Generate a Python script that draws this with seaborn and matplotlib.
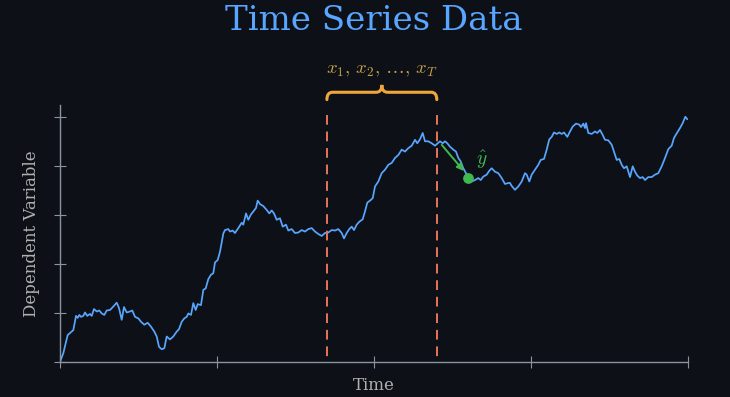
import numpy as np
import pandas as pd
import matplotlib
matplotlib.use("Agg")
import matplotlib.pyplot as plt
from matplotlib.path import Path
from matplotlib.patches import PathPatch
import seaborn as sns

# ---------------- data ----------------
time = [0, 1.05, 2.45, 3.73, 4.24, 5.10, 5.64, 6.15, 6.69, 7.42, 7.96, 8.69, 9.55, 10.10, 10.83,
        11.69, 12.52, 13.28, 14.11, 14.87, 15.92, 16.97, 18.06, 18.79, 19.65, 20.38, 21.24, 22.29,
        23.03, 23.89, 24.94, 25.80, 26.85, 27.93, 28.98, 30.03, 30.80, 31.53, 32.39, 33.22, 33.98,
        35.03, 36.08, 37.17, 37.90, 38.76, 39.59, 40.35, 40.86, 41.72, 42.45, 43.22, 43.85, 44.90,
        45.64, 46.40, 47.23, 48.09, 48.82, 49.36, 50.22, 50.96, 52.01, 52.55, 53.60, 54.14, 55.0,
        55.73, 56.78, 57.87, 58.38, 59.24, 59.97, 60.73, 61.56, 62.42, 62.96, 63.69, 64.74, 65.83,
        66.66, 67.42, 68.15, 69.01, 70.06, 70.92, 71.97, 72.71, 73.79, 74.84, 75.89, 76.97, 78.03,
        79.08, 80.16, 81.21, 82.26, 83.34, 84.39, 85.45, 86.53, 87.58, 88.63, 89.71, 90.45, 91.30,
        92.13, 92.90, 93.63, 94.49, 95.32, 96.40, 97.13, 97.87, 98.73, 99.59, 100.32, 101.37,
        102.45, 103.50, 104.55, 105.64, 106.69, 107.74, 108.82, 109.87, 110.92, 112.01, 113.06,
        113.79, 114.65, 115.51, 116.24, 117.29, 118.38, 119.43, 120.16, 121.02, 121.88, 122.61,
        123.34, 124.20, 125.25, 126.11, 126.85, 127.61, 128.44, 129.30, 130.03, 131.12, 132.17,
        133.22, 133.98, 134.81, 135.89, 136.72, 137.48, 138.54, 139.59, 140.67, 141.72, 142.77,
        143.31, 143.85, 144.90, 145.96, 147.04, 148.09, 148.63, 149.46, 150.22, 151.27, 152.32,
        153.09, 154.14, 155.0, 155.83, 156.59, 157.32, 158.18, 159.01, 159.78, 160.51, 161.56,
        162.42, 163.28, 164.33, 165.38, 165.92, 166.66, 167.20, 167.52, 168.25, 169.33, 170.38,
        171.11, 171.97, 172.83, 173.57, 174.62, 175.70, 176.43, 177.29, 178.12, 178.89, 179.62,
        180.48, 181.53, 182.39, 183.12, 183.86, 184.71, 185.57, 186.31, 187.36, 188.44, 189.49,
        190.54, 191.62, 192.68, 193.73, 194.81, 195.54, 196.59, 197.45, 198.31, 199.14, 199.78]
value = [0.0, 0.18, 0.55, 0.62, 0.65, 0.94, 0.90, 0.96, 0.92, 0.94, 1.01, 0.94, 0.98, 0.94, 1.08,
         1.03, 1.05, 0.99, 0.96, 1.05, 1.06, 1.13, 1.21, 1.10, 0.86, 1.12, 1.01, 1.03,
         1.05, 0.92, 0.89, 0.82, 0.76, 0.80, 0.72, 0.62, 0.52, 0.31, 0.26, 0.28, 0.52,
         0.46, 0.52, 0.62, 0.67, 0.82, 0.89, 0.92, 0.99, 0.96, 1.20, 1.06, 1.18, 1.16,
         1.47, 1.50, 1.69, 1.78, 1.81, 2.03, 2.08, 2.25, 2.62, 2.69, 2.71, 2.66, 2.68,
         2.63, 2.73, 2.84, 2.80, 3.03, 2.90, 3.00, 3.07, 3.14, 3.29, 3.22, 3.18, 3.10,
         3.03, 3.09, 3.03, 2.90, 2.93, 2.76, 2.80, 2.68, 2.71, 2.63, 2.64, 2.69, 2.66,
         2.71, 2.73, 2.66, 2.61, 2.57, 2.63, 2.64, 2.69, 2.68, 2.71, 2.63, 2.52, 2.63,
         2.71, 2.76, 2.69, 2.80, 2.86, 2.91, 3.07, 3.25, 3.29, 3.34, 3.58, 3.68,
         3.85, 3.92, 4.02, 4.06, 4.16, 4.22, 4.33, 4.29, 4.36, 4.41, 4.53,
         4.46, 4.54, 4.67, 4.50, 4.50, 4.46, 4.41, 4.45, 4.50, 4.46, 4.50,
         4.46, 4.39, 4.33, 4.29, 4.16, 4.09, 3.95, 3.85, 3.75, 3.68, 3.71,
         3.75, 3.71, 3.78, 3.82, 3.90, 3.95, 3.88, 3.85, 3.75, 3.63, 3.65,
         3.65, 3.59, 3.51, 3.58, 3.68, 3.85, 3.82, 3.68, 3.82, 3.92, 4.02,
         4.12, 4.14, 4.33, 4.54, 4.59, 4.68, 4.65, 4.68, 4.65, 4.68, 4.59,
         4.70, 4.80, 4.86, 4.84, 4.79, 4.86, 4.77, 4.87, 4.67, 4.65, 4.70,
         4.67, 4.73, 4.63, 4.53, 4.52, 4.43, 4.29, 4.12, 4.14, 4.02, 3.95,
         3.99, 3.77, 3.99, 3.88, 3.80, 3.75, 3.77, 3.71, 3.77, 3.77, 3.82,
         3.85, 3.99, 4.16, 4.34, 4.41, 4.57, 4.68, 4.77, 4.87, 5.00, 4.95]

window_start = 85
window_end = 120
arrow_from = (121, 4.47)
prediction = (130, 3.75)
window_label = r'$x_1,\, x_2,\, \ldots,\, x_T$'
x_ticks = [0, 50, 100, 150, 200]
y_ticks = [0, 1, 2, 3, 4, 5]

df = pd.DataFrame({"Time": time, "Value": value})

# ---------------- style ----------------
BG = "#0d1117"
BLUE = "#58a6ff"
GREY = "#8b949e"
RED = "#e8745c"
GREEN = "#3fb950"
ORANGE = "#f0a63a"
GOLD = "#c9a24a"

sns.set_style("dark", rc={"axes.facecolor": BG, "figure.facecolor": BG})
plt.rcParams["font.family"] = ["DejaVu Serif"]
plt.rcParams["mathtext.fontset"] = "cm"

fig = plt.figure(figsize=(7.30, 3.97), dpi=100)
ax = fig.add_axes([60 / 730, 35 / 397, 628 / 730, 257 / 397])
ax.set_facecolor(BG)

sns.lineplot(data=df, x="Time", y="Value", ax=ax, color=BLUE, linewidth=1.25,
             estimator=None, sort=False)

ax.set_xlim(0, 200)
ax.set_ylim(0, 5.24)
ax.set_xticks(x_ticks)
ax.set_yticks(y_ticks)
ax.set_xticklabels([])
ax.set_yticklabels([])
ax.grid(False)
for s in ["top", "right"]:
    ax.spines[s].set_visible(False)
for s in ["left", "bottom"]:
    ax.spines[s].set_visible(True)
    ax.spines[s].set_color(GREY)
    ax.spines[s].set_linewidth(1.0)
ax.tick_params(axis="both", direction="inout", length=8, width=0.8, colors=GREY,
               bottom=True, left=True)

ax.set_xlabel("Time", color="#b0b0b0", fontsize=12)
ax.set_ylabel("Dependent Variable", color="#b0b0b0", fontsize=12)
ax.xaxis.set_label_coords(0.5, -24 / 257)
ax.xaxis.label.set_va("center")
ax.yaxis.set_label_coords(-29 / 628, 0.5)
ax.yaxis.label.set_va("center")

# window markers (drawn top-down so the dash pattern starts at the top)
for xv in (window_start, window_end):
    ax.plot([xv, xv], [5.04, 0], color=RED, linestyle=(0, (5, 3.5)), linewidth=1.4)

# brace above the window
ymid = 5.5
h = 0.15
xm = (window_start + window_end) / 2
r = 1.8
verts = [(window_start, ymid - h), (window_start, ymid), (window_start + r, ymid),
         (xm - r, ymid), (xm, ymid), (xm, ymid + h),
         (xm, ymid), (xm + r, ymid),
         (window_end - r, ymid), (window_end, ymid), (window_end, ymid - h)]
codes = [Path.MOVETO, Path.CURVE3, Path.CURVE3,
         Path.LINETO, Path.CURVE3, Path.CURVE3,
         Path.CURVE3, Path.CURVE3,
         Path.LINETO, Path.CURVE3, Path.CURVE3]
ax.add_patch(PathPatch(Path(verts, codes), facecolor="none", edgecolor=ORANGE,
                       linewidth=2.2, clip_on=False, capstyle="round"))
ax.text(xm, 5.96, window_label, color=GOLD, fontsize=13.5, ha="center", va="center",
        clip_on=False)

# prediction arrow and point
ax.annotate("", xy=(prediction[0] - 0.8, prediction[1] + 0.1), xytext=arrow_from,
            arrowprops=dict(arrowstyle="-|>", color=GREEN, lw=1.4, mutation_scale=10))
ax.scatter([prediction[0]], [prediction[1]], s=45, color=GREEN, zorder=5)
ax.text(134.2, 4.12, r'$\hat{y}$', color=GREEN, fontsize=14, ha="center", va="center")

fig.text(374 / 730, 0.988, "Time Series Data", color=BLUE, fontsize=24.5,
         ha="center", va="top")

fig.savefig("out.png", dpi=100, facecolor=BG)
